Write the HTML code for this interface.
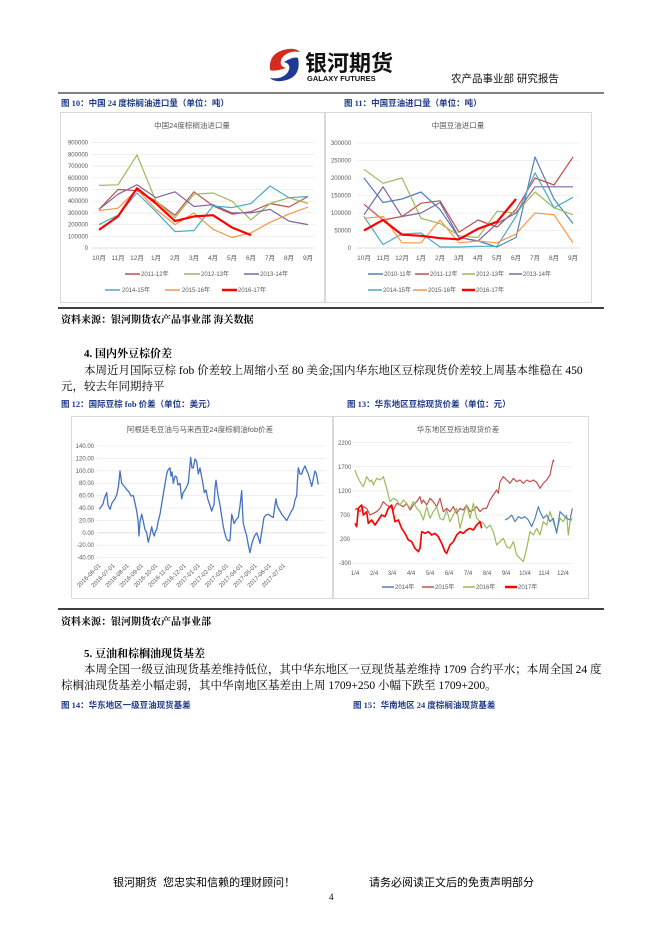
<!DOCTYPE html>
<html><head><meta charset="utf-8">
<style>
body{margin:0;background:#fff;}
#p{position:relative;width:662px;height:936px;overflow:hidden;font-family:"Liberation Serif","Noto Serif CJK SC",serif;color:#000;}
.t{position:absolute;white-space:nowrap;}
.cap{font-family:"Liberation Serif","Noto Sans CJK SC",sans-serif;font-weight:bold;color:#1f3a8a;font-size:8.5px;}
.body{font-size:11.5px;}
svg text{font-family:"Liberation Sans","Noto Sans CJK SC",sans-serif;}
</style></head><body><div id="p">
<svg width="662" height="936" style="position:absolute;left:0;top:0">
<circle cx="284" cy="65" r="16" fill="#fff"/>
<path d="M270 70 Q268 52 288 49 Q296 48 300 52 Q288 50 282 58 Q278 66 286 68 Q274 72 270 70Z" fill="#d52b1e"/>
<path d="M298 58 Q302 78 282 81 Q274 82 270 78 Q282 80 288 72 Q292 64 284 62 Q294 56 298 58Z" fill="#1f3a93"/>
<text x="305" y="71" font-size="22" font-weight="bold" fill="#111">银河期货</text>
<text x="307" y="81" font-size="7.5" font-weight="bold" fill="#111">GALAXY FUTURES</text>
<text x="451" y="82" font-size="10.5" fill="#111">农产品事业部 研究报告</text>
<line x1="58" y1="93" x2="604" y2="93" stroke="#000" stroke-width="1"/>

<rect x="60.5" y="112.5" width="264" height="190" fill="none" stroke="#d9d9d9"/>
<rect x="325.5" y="112.5" width="266" height="190" fill="none" stroke="#d9d9d9"/>
<line x1="58" y1="308" x2="604" y2="308" stroke="#000" stroke-width="1.5"/>
<rect x="71.5" y="416.5" width="261" height="182" fill="none" stroke="#d9d9d9"/>
<rect x="333.5" y="416.5" width="255" height="182" fill="none" stroke="#d9d9d9"/>
<line x1="58" y1="609" x2="604" y2="609" stroke="#000" stroke-width="1.5"/>

<!-- Chart 1 -->
<g stroke="#e3e3e3" stroke-width="0.6">
<line x1="92" x2="314" y1="248" y2="248" stroke="#bbb"/><line x1="92" x2="314" y1="236.3" y2="236.3"/><line x1="92" x2="314" y1="224.6" y2="224.6"/><line x1="92" x2="314" y1="212.9" y2="212.9"/><line x1="92" x2="314" y1="201.2" y2="201.2"/><line x1="92" x2="314" y1="189.5" y2="189.5"/><line x1="92" x2="314" y1="177.8" y2="177.8"/><line x1="92" x2="314" y1="166.1" y2="166.1"/><line x1="92" x2="314" y1="154.4" y2="154.4"/><line x1="92" x2="314" y1="142.7" y2="142.7"/>
</g>
<g font-size="6" fill="#595959" text-anchor="end">
<text x="88" y="250">0</text><text x="88" y="238.3">100000</text><text x="88" y="226.6">200000</text><text x="88" y="214.9">300000</text><text x="88" y="203.2">400000</text><text x="88" y="191.5">500000</text><text x="88" y="179.8">600000</text><text x="88" y="168.1">700000</text><text x="88" y="156.4">800000</text><text x="88" y="144.7">900000</text>
</g>
<g font-size="6.5" fill="#595959" text-anchor="middle">
<text x="99" y="260">10月</text><text x="118" y="260">11月</text><text x="137" y="260">12月</text><text x="156" y="260">1月</text><text x="175" y="260">2月</text><text x="194" y="260">3月</text><text x="213" y="260">4月</text><text x="232" y="260">5月</text><text x="251" y="260">6月</text><text x="270" y="260">7月</text><text x="289" y="260">8月</text><text x="308" y="260">9月</text>
</g>
<text x="192" y="128" font-size="7.5" fill="#595959" text-anchor="middle">中国24度棕榈油进口量</text>
<g fill="none" stroke-width="1.2" stroke-linejoin="round">
<polyline stroke="#c0504d" points="99,209.4 118,189.5 137,190.7 156,201.2 175,215.2 194,191.8 213,205.9 232,214.1 251,211.7 270,203.5 289,207 308,196.5"/>
<polyline stroke="#9bbb59" points="99,185.4 118,184.8 137,155 156,201.2 175,217.6 194,194.2 213,193 232,201.2 251,219.9 270,203.5 289,197.7 308,203.5"/>
<polyline stroke="#8064a2" points="99,209.4 118,194.2 137,184.8 156,197.7 175,191.8 194,206.5 213,204.7 232,212.9 251,212.9 270,209.4 289,221.1 308,224.6"/>
<polyline stroke="#4bacc6" points="99,224.6 118,215.2 137,193 156,211.7 175,231.6 194,230.5 213,205.9 232,207.6 251,203.5 270,186 289,197.7 308,196.5"/>
<polyline stroke="#f79646" points="99,210.6 118,208.2 137,189.5 156,209.4 175,224.6 194,212.9 213,229.3 232,237.5 251,232.8 270,222.3 289,214.1 308,207"/>
<polyline stroke="#ff0000" stroke-width="2.2" points="99,229.9 118,216.4 137,188.3 156,203.5 175,221.1 194,216.4 213,215.2 232,227.5 251,235.1"/>
</g>
<g font-size="6" fill="#595959">
<line x1="125" x2="140" y1="274" y2="274" stroke="#c0504d" stroke-width="1.5"/><text x="141" y="276">2011-12年</text>
<line x1="184" x2="200" y1="274" y2="274" stroke="#9bbb59" stroke-width="1.5"/><text x="201" y="276">2012-13年</text>
<line x1="244" x2="259" y1="274" y2="274" stroke="#8064a2" stroke-width="1.5"/><text x="260" y="276">2013-14年</text>
<line x1="105" x2="120" y1="290" y2="290" stroke="#4bacc6" stroke-width="1.5"/><text x="122" y="292">2014-15年</text>
<line x1="165" x2="180" y1="290" y2="290" stroke="#f79646" stroke-width="1.5"/><text x="182" y="292">2015-16年</text>
<line x1="222" x2="237" y1="290" y2="290" stroke="#ff0000" stroke-width="2.5"/><text x="238" y="292">2016-17年</text>
</g>

<!-- Chart 2 -->
<g stroke="#e3e3e3" stroke-width="0.6">
<line x1="357" x2="580" y1="248" y2="248" stroke="#bbb"/><line x1="357" x2="580" y1="230.5" y2="230.5"/><line x1="357" x2="580" y1="213" y2="213"/><line x1="357" x2="580" y1="195.5" y2="195.5"/><line x1="357" x2="580" y1="178" y2="178"/><line x1="357" x2="580" y1="160.5" y2="160.5"/><line x1="357" x2="580" y1="143" y2="143"/>
</g>
<g font-size="6" fill="#595959" text-anchor="end">
<text x="351" y="250">0</text><text x="351" y="232.5">50000</text><text x="351" y="215">100000</text><text x="351" y="197.5">150000</text><text x="351" y="180">200000</text><text x="351" y="162.5">250000</text><text x="351" y="145">300000</text>
</g>
<g font-size="6.5" fill="#595959" text-anchor="middle">
<text x="364" y="260">10月</text><text x="383" y="260">11月</text><text x="402" y="260">12月</text><text x="421" y="260">1月</text><text x="440" y="260">2月</text><text x="459" y="260">3月</text><text x="478" y="260">4月</text><text x="497" y="260">5月</text><text x="516" y="260">6月</text><text x="535" y="260">7月</text><text x="554" y="260">8月</text><text x="573" y="260">9月</text>
</g>
<text x="458" y="128" font-size="7.5" fill="#595959" text-anchor="middle">中国豆油进口量</text>
<g fill="none" stroke-width="1.2" stroke-linejoin="round">
<polyline stroke="#4f81bd" points="364,178 383,202.5 402,199 421,192 440,209.5 459,237.5 478,241 497,247 516,237.5 535,157 554,199 573,223.5"/>
<polyline stroke="#c0504d" points="364,204.3 383,220 402,216.5 421,203.2 440,200.8 459,232.3 478,220 497,227 516,209.5 535,178 554,185 573,157"/>
<polyline stroke="#9bbb59" points="364,169.3 383,183.3 402,178 421,218.3 440,223.5 459,235.8 478,237.5 497,211.3 516,213 535,192 554,207.8 573,214.8"/>
<polyline stroke="#8064a2" points="364,214.8 383,186.8 402,216.5 421,213 440,202.5 459,237.5 478,241 497,223.5 516,213 535,186.8 554,186.8 573,186.8"/>
<polyline stroke="#4bacc6" points="364,216.5 383,244.5 402,234 421,233 440,247 459,247 478,246.3 497,246.3 516,216.5 535,172.8 554,207.8 573,197.3"/>
<polyline stroke="#f79646" points="364,218.3 383,216.5 402,242.8 421,242.8 440,220 459,242.8 478,241 497,242.8 516,234 535,213 554,214.8 573,242.8"/>
<polyline stroke="#ff0000" stroke-width="2.2" points="364,230.5 383,220 402,234.7 421,235.8 440,238.2 459,239.3 478,228.8 497,221.8 516,199"/>
</g>
<g font-size="6" fill="#595959">
<line x1="368" x2="383" y1="274" y2="274" stroke="#4f81bd" stroke-width="1.5"/><text x="384" y="276">2010-11年</text>
<line x1="415" x2="429" y1="274" y2="274" stroke="#c0504d" stroke-width="1.5"/><text x="430" y="276">2011-12年</text>
<line x1="462" x2="475" y1="274" y2="274" stroke="#9bbb59" stroke-width="1.5"/><text x="476" y="276">2012-13年</text>
<line x1="509" x2="522" y1="274" y2="274" stroke="#8064a2" stroke-width="1.5"/><text x="523" y="276">2013-14年</text>
<line x1="368" x2="382" y1="290" y2="290" stroke="#4bacc6" stroke-width="1.5"/><text x="383" y="292">2014-15年</text>
<line x1="413" x2="427" y1="290" y2="290" stroke="#f79646" stroke-width="1.5"/><text x="428" y="292">2015-16年</text>
<line x1="462" x2="475" y1="290" y2="290" stroke="#ff0000" stroke-width="2.5"/><text x="476" y="292">2016-17年</text>
</g>

<!-- Chart 3 -->
<g stroke="#e3e3e3" stroke-width="0.6">
<line x1="97" x2="325" y1="446" y2="446"/><line x1="97" x2="325" y1="458.4" y2="458.4"/><line x1="97" x2="325" y1="470.8" y2="470.8"/><line x1="97" x2="325" y1="483.2" y2="483.2"/><line x1="97" x2="325" y1="495.6" y2="495.6"/><line x1="97" x2="325" y1="508" y2="508"/><line x1="97" x2="325" y1="520.4" y2="520.4"/><line x1="97" x2="325" y1="532.8" y2="532.8" stroke="#ccc"/><line x1="97" x2="325" y1="545.2" y2="545.2"/><line x1="97" x2="325" y1="557.6" y2="557.6"/>
</g>
<g font-size="6" fill="#595959" text-anchor="end">
<text x="94" y="448">140.00</text><text x="94" y="460.4">120.00</text><text x="94" y="472.8">100.00</text><text x="94" y="485.2">80.00</text><text x="94" y="497.6">60.00</text><text x="94" y="510">40.00</text><text x="94" y="522.4">20.00</text><text x="94" y="534.8">0.00</text><text x="94" y="547.2">-20.00</text><text x="94" y="559.6">-40.00</text>
</g>
<text x="200" y="432" font-size="7.5" fill="#595959" text-anchor="middle">阿根廷毛豆油与马来西亚24度棕榈油fob价差</text>
<g font-size="6" fill="#595959" text-anchor="end">
<text transform="translate(101,566) rotate(-45)">2016-06-01</text><text transform="translate(115.2,566) rotate(-45)">2016-07-01</text><text transform="translate(129.4,566) rotate(-45)">2016-08-01</text><text transform="translate(143.6,566) rotate(-45)">2016-09-01</text><text transform="translate(157.8,566) rotate(-45)">2016-10-01</text><text transform="translate(172,566) rotate(-45)">2016-11-01</text><text transform="translate(186.2,566) rotate(-45)">2016-12-01</text><text transform="translate(200.4,566) rotate(-45)">2017-01-01</text><text transform="translate(214.6,566) rotate(-45)">2017-02-01</text><text transform="translate(228.8,566) rotate(-45)">2017-03-01</text><text transform="translate(243,566) rotate(-45)">2017-04-01</text><text transform="translate(257.2,566) rotate(-45)">2017-05-01</text><text transform="translate(271.4,566) rotate(-45)">2017-06-01</text><text transform="translate(285.6,566) rotate(-45)">2017-07-01</text>
</g>
<polyline fill="none" stroke="#4472c4" stroke-width="1.3" stroke-linejoin="round" points="99.3,509.3 101,507 103,504 104.5,498 106.7,492.6 108,505 110,509.3 112,503 115,498.8 117,494 118.5,486 120,470.9 121.7,483.3 124,486 126.7,489.5 129,492 131,496 133.3,495.7 135,503 136.7,511.2 138,520 139,536 140,522 141.7,514.3 143,520 145,529.8 146.5,532 148.3,542.2 150,535 151.7,526.7 153,533 154.3,536 155.5,531 156.7,529.8 158,522 160,514.3 162,502 164,490 166.7,474 168,470 170,467.8 171,476 172,472 173.3,483.3 175,476 176.7,477.1 178,485 180,483.3 181.7,498.8 183,493 185,490 188.3,483.3 189.5,470 190.7,457.3 192,468 193.3,467.8 195,459 196.7,461.6 198.3,474 200,468 201.7,477.1 203,484 204.3,492.6 206,490 207.7,498.8 209.5,504 211.7,511.2 213,507 214,505 215,488 216,480.2 218,495 220,505 221.5,515 223.3,526.7 225,534 226.7,539.1 228.5,541 230,540.3 231,525 231.7,514.3 233,519 234,523.6 236,520 238.3,517.4 240,506 241.7,490.7 242.5,510 243.3,523.6 245,530 246.7,536 248.5,546 250,552.7 251.5,545 253.3,539.1 255,535 256.7,532.9 258.5,538 260,543.4 262,530 264,517.4 266,515 268.3,514.3 270.5,516 273.3,517.4 275,505 276,498.8 277,505 278.3,508.1 280,511 281.7,514.3 284,517 286.7,520.5 289,516 291,512 293.3,508.1 295,500 296.7,495.7 297.5,480 298.3,467.8 300,474 301.7,474 303,470 305,465.9 306.5,470 308.3,474 310,480 311.7,486.4 313.5,478 315,470.9 316.5,474 318.3,484.5"/>

<!-- Chart 4 -->
<g stroke="#e3e3e3" stroke-width="0.6">
<line x1="352" x2="572" y1="442.7" y2="442.7"/><line x1="352" x2="572" y1="466.8" y2="466.8"/><line x1="352" x2="572" y1="490.9" y2="490.9"/><line x1="352" x2="572" y1="515" y2="515"/><line x1="352" x2="572" y1="539.2" y2="539.2"/><line x1="352" x2="572" y1="563.3" y2="563.3"/>
</g>
<g font-size="6" fill="#595959">
<text x="338" y="445">2200</text><text x="338" y="469">1700</text><text x="338" y="493">1200</text><text x="340" y="517">700</text><text x="340" y="541">200</text><text x="339" y="565">-300</text>
</g>
<g font-size="6" fill="#595959" text-anchor="middle">
<text x="355" y="575">1/4</text><text x="374" y="575">2/4</text><text x="392" y="575">3/4</text><text x="411" y="575">4/4</text><text x="430" y="575">5/4</text><text x="449" y="575">6/4</text><text x="468" y="575">7/4</text><text x="487" y="575">8/4</text><text x="506" y="575">9/4</text><text x="525" y="575">10/4</text><text x="544" y="575">11/4</text><text x="563" y="575">12/4</text>
</g>
<text x="458" y="432" font-size="7.5" fill="#595959" text-anchor="middle">华东地区豆棕油现货价差</text>
<g transform="translate(330,395) scale(0.33333)" fill="none" stroke-width="3.6" stroke-linejoin="round">
<polyline stroke="#c0504d" points="75,345 80,340 90,350 100,335 110,340 120,360 130,355 140,350 150,340 160,320 170,330 180,335 190,345 200,325 210,330 220,335 230,325 240,345 250,330 260,320 270,305 275,325 280,315 290,330 300,310 310,320 320,335 330,310 340,350 350,340 360,350 370,335 380,355 390,340 400,345 410,330 420,350 430,345 440,335 450,350 460,340 470,340 480,315 490,300 500,285 505,295 510,260 520,245 530,255 540,265 550,250 560,260 570,255 580,265 590,255 600,260 610,255 620,262 630,280 640,265 650,255 660,240 665,215 670,195 672,200"/>
<polyline stroke="#9bbb59" points="75,225 80,240 90,260 100,275 110,245 120,260 125,255 130,270 140,250 150,255 160,245 170,280 180,320 190,310 200,315 210,330 220,315 230,325 240,340 250,320 260,340 270,350 280,375 290,335 300,370 310,350 320,335 330,370 340,375 350,345 360,380 370,360 380,340 390,400 400,360 410,330 420,370 430,325 440,370 450,380 460,385 470,400 480,390 490,410 500,450 510,440 520,430 530,455 540,460 550,440 560,480 570,490 580,500 590,460 600,410 610,420 620,400 630,420 640,380 650,390 660,350 670,380 680,410 690,370 700,380 710,360 715,420 720,380 727,370"/>
<polyline stroke="#4f81bd" points="525,375 535,370 545,360 555,380 565,365 575,370 585,365 595,375 605,395 615,370 625,335 630,350 640,370 650,360 660,380 670,370 680,415 690,350 700,360 710,370 720,375 727,340"/>
<polyline stroke="#ff0000" stroke-width="5" points="75,385 80,395 85,340 95,330 100,360 110,350 115,385 125,375 135,390 145,375 155,360 165,365 175,340 185,330 195,380 205,375 215,400 225,415 235,435 245,440 255,460 265,470 270,460 275,410 285,415 295,410 305,420 315,415 325,425 335,445 345,470 350,475 360,450 370,440 380,420 390,410 400,415 410,405 420,400 430,405 440,390 450,380 455,400"/>
</g>
<g font-size="6" fill="#595959">
<line x1="382" x2="394" y1="587" y2="587" stroke="#4f81bd" stroke-width="1.5"/><text x="395" y="589">2014年</text>
<line x1="422" x2="434" y1="587" y2="587" stroke="#c0504d" stroke-width="1.5"/><text x="435" y="589">2015年</text>
<line x1="463" x2="475" y1="587" y2="587" stroke="#9bbb59" stroke-width="1.5"/><text x="476" y="589">2016年</text>
<line x1="505" x2="517" y1="587" y2="587" stroke="#ff0000" stroke-width="2.5"/><text x="518" y="589">2017年</text>
</g>
</svg>

<div class="t cap" style="left:61px;top:97px;">图 10：中国 24 度棕榈油进口量（单位：吨）</div>
<div class="t cap" style="left:344px;top:97px;">图 11：中国豆油进口量（单位：吨）</div>
<div class="t" style="left:61px;top:311px;font-size:10px;font-weight:bold;">资料来源：银河期货农产品事业部 海关数据</div>
<div class="t" style="left:84px;top:345px;font-size:11px;font-weight:bold;">4. 国内外豆棕价差</div>
<div class="t body" style="left:84px;top:362px;">本周近月国际豆棕 fob 价差较上周缩小至 80 美金;国内华东地区豆棕现货价差较上周基本维稳在 450</div>
<div class="t body" style="left:61px;top:378px;">元，较去年同期持平</div>
<div class="t cap" style="left:61px;top:398px;">图 12：国际豆棕 fob 价差（单位：美元）</div>
<div class="t cap" style="left:347px;top:398px;">图 13：华东地区豆棕现货价差（单位：元）</div>
<div class="t" style="left:61px;top:613px;font-size:10px;font-weight:bold;">资料来源：银河期货农产品事业部</div>
<div class="t" style="left:84px;top:645px;font-size:11px;font-weight:bold;">5. 豆油和棕榈油现货基差</div>
<div class="t body" style="left:84px;top:661px;">本周全国一级豆油现货基差维持低位，其中华东地区一豆现货基差维持 1709 合约平水；本周全国 24 度</div>
<div class="t body" style="left:61px;top:677px;">棕榈油现货基差小幅走弱，其中华南地区基差由上周 1709+250 小幅下跌至 1709+200。</div>
<div class="t cap" style="left:61px;top:699px;">图 14：华东地区一级豆油现货基差</div>
<div class="t cap" style="left:353px;top:699px;">图 15：华南地区 24 度棕榈油现货基差</div>
<div class="t" style="left:113px;top:874px;font-size:11px;font-family:'Liberation Sans','Noto Sans CJK SC',sans-serif;">银河期货&nbsp; 您忠实和信赖的理财顾问！</div>
<div class="t" style="left:369px;top:874px;font-size:11px;font-family:'Liberation Sans','Noto Sans CJK SC',sans-serif;">请务必阅读正文后的免责声明部分</div>
<div class="t" style="left:329px;top:892px;font-size:9px;">4</div>
</div></body></html>
